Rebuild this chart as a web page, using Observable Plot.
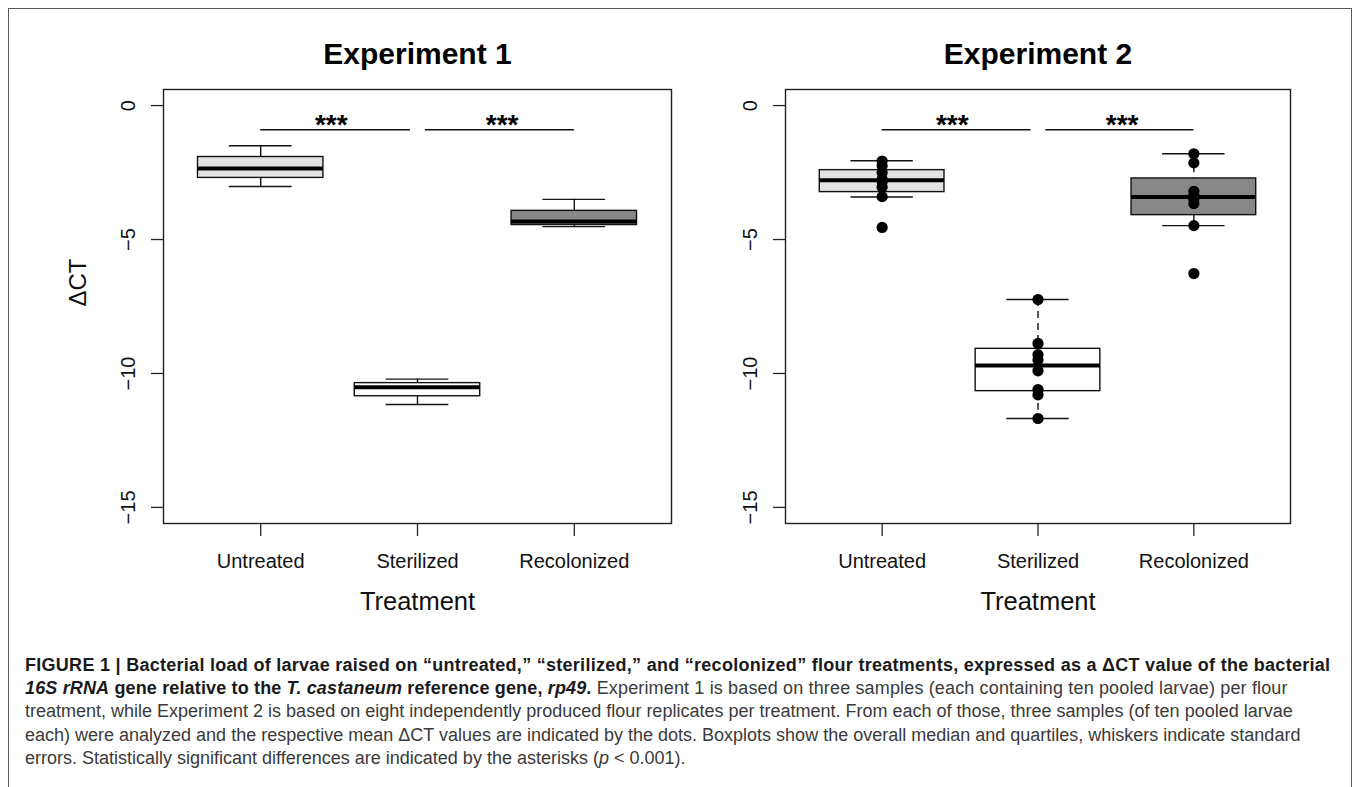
<!DOCTYPE html>
<html>
<head>
<meta charset="utf-8">
<script src="https://cdn.jsdelivr.net/npm/d3@7"></script>
<script src="https://cdn.jsdelivr.net/npm/@observablehq/plot@0.6"></script>
<style>
  body { margin: 0; background: #fff; }
  #wrap { position: relative; width: 1357px; height: 787px; overflow: hidden; background: #fff; }
  #border { position: absolute; left: 8px; top: 8px; width: 1344px; height: 820px; border: 1.5px solid #5a5a5a; box-sizing: border-box; }
  #p1 { position: absolute; left: 0; top: 0; }
  #p2 { position: absolute; left: 680px; top: 0; }
  #cap { position: absolute; left: 25px; top: 654px; width: 1320px; font-family: "Liberation Sans", Arial, sans-serif; font-size: 18px; line-height: 23.2px; color: #3a3a3a; white-space: nowrap; }
  #cap b { color: #1a1a1a; }
  #cap .l1 { letter-spacing: 0.28px; }
  #cap .l2 { letter-spacing: 0.15px; }
</style>
</head>
<body>
<div id="wrap">
  <div id="border"></div>
  <div id="p1"></div>
  <div id="p2"></div>
  <div id="cap">
    <b class="l1">FIGURE 1 | Bacterial load of larvae raised on “untreated,” “sterilized,” and “recolonized” flour treatments, expressed as a ΔCT value of the bacterial</b><br>
    <span class="l2"><b><i>16S rRNA</i> gene relative to the <i>T. castaneum</i> reference gene, <i>rp49</i>.</b> Experiment 1 is based on three samples (each containing ten pooled larvae) per flour</span><br>
    treatment, while Experiment 2 is based on eight independently produced flour replicates per treatment. From each of those, three samples (of ten pooled larvae<br>
    each) were analyzed and the respective mean ΔCT values are indicated by the dots. Boxplots show the overall median and quartiles, whiskers indicate standard<br>
    errors. Statistically significant differences are indicated by the asterisks (<i>p</i> &lt; 0.001).
  </div>
</div>
<script>
// ---------- data ----------
const treatments = ["Untreated", "Sterilized", "Recolonized"];
const boxFill = ["#e2e2e2", "#ffffff", "#888888"];
const yTicks = [0, -5, -10, -15];

// Experiment 1 box statistics (upper whisker, upper quartile, median, lower quartile, lower whisker)
const exp1WhiskerHigh = [-1.50, -10.21, -3.50];
const exp1Q3 = [-1.92, -10.36, -3.93];
const exp1Median = [-2.35, -10.51, -4.33];
const exp1Q1 = [-2.70, -10.85, -4.46];
const exp1WhiskerLow = [-3.02, -11.16, -4.52];

// Experiment 2 box statistics
const exp2WhiskerHigh = [-2.06, -7.24, -1.80];
const exp2Q3 = [-2.41, -9.08, -2.72];
const exp2Median = [-2.79, -9.70, -3.41];
const exp2Q1 = [-3.23, -10.66, -4.09];
const exp2WhiskerLow = [-3.41, -11.68, -4.48];

// Experiment 2 replicate means (dots)
const exp2Untreated = [-2.07, -2.25, -2.50, -2.75, -2.85, -3.05, -3.40, -4.55];
const exp2Sterilized = [-7.24, -8.88, -9.30, -9.50, -9.90, -10.60, -10.80, -11.68];
const exp2Recolonized = [-1.80, -2.14, -3.20, -3.35, -3.50, -3.66, -4.48, -6.27];

// significance bars
const sigFrom = [1, 2.05];
const sigTo = [1.955, 3];
const sigLabelX = [1.45, 2.54];
const sigLabel = ["***", "***"];
const sigLevel = -0.9;
const sigTextLevel = -0.5;

// ---------- drawing ----------
const font = "'Liberation Sans', Arial, Helvetica, sans-serif";

function panel({title, hi, q3, med, q1, lo, points, yLabel, dash, width, marginLeft, marginRight}) {
  const boxes = treatments.map((t, k) => ({
    i: k + 1, t, fill: boxFill[k], hi: hi[k], q3: q3[k], med: med[k], q1: q1[k], lo: lo[k]
  }));
  const dots = [];
  points.forEach((arr, k) => arr.forEach(v => dots.push({i: k + 1, v})));
  const sig = sigFrom.map((a, k) => ({a, b: sigTo[k], c: sigLabelX[k], s: sigLabel[k]}));
  const marks = [
    Plot.frame({stroke: "#222", strokeWidth: 1.4}),
    Plot.axisY({ticks: yTicks, tickSize: 12, tickPadding: 17, tickRotate: -90, fontSize: 20, label: null, stroke: "#222", strokeWidth: 1.3}),
    Plot.axisX({ticks: [1, 2, 3], tickFormat: d => treatments[d - 1], tickSize: 13, tickPadding: 17, fontSize: 20, label: null, stroke: "#222", strokeWidth: 1.3}),
    Plot.ruleX(boxes, {x: "i", y1: "hi", y2: "q3", stroke: "#111", strokeWidth: 1.4, strokeDasharray: dash}),
    Plot.ruleX(boxes, {x: "i", y1: "q1", y2: "lo", stroke: "#111", strokeWidth: 1.4, strokeDasharray: dash}),
    Plot.ruleY(boxes, {y: "hi", x1: d => d.i - 0.2, x2: d => d.i + 0.2, stroke: "#111", strokeWidth: 1.4}),
    Plot.ruleY(boxes, {y: "lo", x1: d => d.i - 0.2, x2: d => d.i + 0.2, stroke: "#111", strokeWidth: 1.4}),
    Plot.rect(boxes, {x1: d => d.i - 0.4, x2: d => d.i + 0.4, y1: "q1", y2: "q3", fill: "fill", stroke: "#111", strokeWidth: 1.4}),
    Plot.ruleY(boxes, {y: "med", x1: d => d.i - 0.4, x2: d => d.i + 0.4, stroke: "#000", strokeWidth: 4}),
    Plot.dot(dots, {x: "i", y: "v", r: 5.6, fill: "#000", stroke: "none"}),
    Plot.ruleY(sig, {y: sigLevel, x1: "a", x2: "b", stroke: "#111", strokeWidth: 1.4}),
    Plot.text(sig, {x: "c", y: sigTextLevel, text: "s", fontSize: 28, fontWeight: "bold", dy: 6, fill: "#000"}),
    Plot.text([title], {text: d => d, frameAnchor: "top", dy: -47, fontSize: 30, fontWeight: "bold", fill: "#000"}),
    Plot.text(["Treatment"], {text: d => d, frameAnchor: "bottom", dy: 86, fontSize: 25.5, fill: "#111"})
  ];
  if (yLabel) marks.push(Plot.text([yLabel], {text: d => d, frameAnchor: "left", dx: -85, rotate: -90, fontSize: 24, fill: "#111"}));
  return Plot.plot({
    width, height: 640,
    marginLeft, marginRight, marginTop: 89, marginBottom: 117,
    x: {domain: [0.38, 3.62], axis: null},
    y: {domain: [-15.6, 0.6], axis: null},
    color: {type: "identity"},
    style: {fontFamily: font, color: "#111", background: "transparent", overflow: "visible"},
    marks
  });
}

document.getElementById("p1").append(panel({
  title: "Experiment 1", hi: exp1WhiskerHigh, q3: exp1Q3, med: exp1Median, q1: exp1Q1, lo: exp1WhiskerLow,
  points: [[], [], []], yLabel: "ΔCT", dash: null, width: 680, marginLeft: 163, marginRight: 9
}));
document.getElementById("p2").append(panel({
  title: "Experiment 2", hi: exp2WhiskerHigh, q3: exp2Q3, med: exp2Median, q1: exp2Q1, lo: exp2WhiskerLow,
  points: [exp2Untreated, exp2Sterilized, exp2Recolonized], yLabel: null, dash: "7,5", width: 670, marginLeft: 105, marginRight: 60
}));
</script>
</body>
</html>
